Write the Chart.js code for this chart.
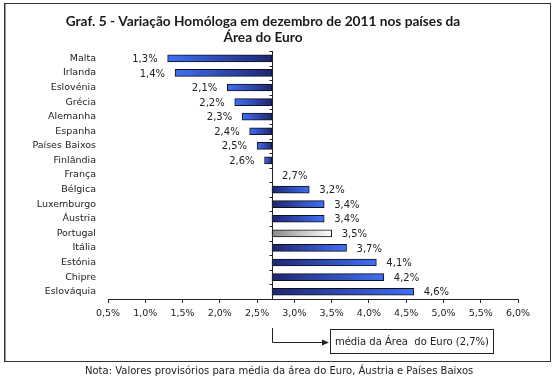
<!DOCTYPE html>
<html><head><meta charset="utf-8">
<script src="https://cdn.jsdelivr.net/npm/chart.js@4/dist/chart.umd.min.js"></script>
<style>html,body{margin:0;padding:0;background:#fff}#wrap{width:559px;height:384px;position:relative}</style>
</head><body><div id="wrap"><canvas id="c" width="559" height="384"></canvas></div>
<script>
const countries = ['Malta','Irlanda','Eslovénia','Grécia','Alemanha','Espanha','Países Baixos','Finlândia','França','Bélgica','Luxemburgo','Áustria','Portugal','Itália','Estónia','Chipre','Eslováquia'];
const values = [1.3,1.4,2.1,2.2,2.3,2.4,2.5,2.6,2.7,3.2,3.4,3.4,3.5,3.7,4.1,4.2,4.6];
const euroAvg = 2.7;
const highlight = 'Portugal';
const xTickValues = [0.5,1.0,1.5,2.0,2.5,3.0,3.5,4.0,4.5,5.0,5.5,6.0];
const titleLines = ['Graf. 5 - Variação Homóloga em dezembro de 2011 nos países da','Área do Euro'];
const avgLabel = 'média da Área  do Euro (2,7%)';
const noteText = 'Nota: Valores provisórios para média da área do Euro, Áustria e Países Baixos';

const fmt = v => v.toFixed(1).replace('.', ',') + '%';
const FONT = '"DejaVu Sans", sans-serif';

function barFill(ctx) {
  const chart = ctx.chart;
  const isHi = countries[ctx.dataIndex] === highlight;
  const dark = isHi ? '#8a8a8a' : '#1e2770';
  const bright = isHi ? '#ffffff' : '#3f6ff5';
  const xs = chart.scales && chart.scales.x;
  if (!chart.chartArea || !xs) return bright;
  const v = values[ctx.dataIndex];
  const p0 = xs.getPixelForValue(euroAvg), p1 = xs.getPixelForValue(v);
  if (Math.abs(p1 - p0) < 1) return dark;
  const g = chart.ctx.createLinearGradient(p0, 0, p1, 0);
  g.addColorStop(0, dark);
  g.addColorStop(1, bright);
  return g;
}

const decor = {
  id: 'decor',
  beforeDraw(chart) {
    const ctx = chart.ctx;
    ctx.save();
    ctx.strokeStyle = '#999'; ctx.lineWidth = 2;
    ctx.beginPath(); ctx.moveTo(5, 3); ctx.lineTo(5, 362); ctx.stroke();
    ctx.strokeStyle = '#333'; ctx.lineWidth = 1;
    ctx.strokeRect(4.5, 3.5, 546, 358);
    ctx.restore();
  },
  afterDatasetsDraw(chart) {
    const { ctx, chartArea: a, scales: { x, y } } = chart;
    const x0 = Math.round(x.getPixelForValue(euroAvg)) + 0.5;
    ctx.save();
    ctx.strokeStyle = '#222'; ctx.lineWidth = 1;
    ctx.beginPath();
    ctx.moveTo(x0, a.top); ctx.lineTo(x0, a.bottom);
    for (let i = 0; i <= countries.length; i++) {
      const yy = Math.round(y.getPixelForValue(i - 0.5)) + 0.5;
      ctx.moveTo(x0 - 3, yy); ctx.lineTo(x0, yy);
    }
    ctx.stroke();
    const meta = chart.getDatasetMeta(0);
    ctx.font = '10px ' + FONT; ctx.fillStyle = '#222'; ctx.textBaseline = 'middle';
    meta.data.forEach((bar, i) => {
      const v = values[i];
      if (v < euroAvg) { ctx.textAlign = 'right'; ctx.fillText(fmt(v), bar.x - 10, bar.y + 1); }
      else { ctx.textAlign = 'left'; ctx.fillText(fmt(v), bar.x + 10, bar.y + 1); }
    });
    // annotation arrow + box
    ctx.beginPath();
    ctx.moveTo(x0, 328); ctx.lineTo(x0, 342.5); ctx.lineTo(324, 342.5);
    ctx.stroke();
    ctx.fillStyle = '#222';
    ctx.beginPath(); ctx.moveTo(329, 342.5); ctx.lineTo(322, 339.5); ctx.lineTo(322, 345.5); ctx.closePath(); ctx.fill();
    ctx.strokeRect(330.5, 329.5, 163, 24);
    ctx.font = '10px ' + FONT; ctx.textAlign = 'center'; ctx.fillStyle = '#222';
    ctx.fillText(avgLabel, 412, 342);
    ctx.textAlign = 'left';
    ctx.fillText(noteText, 85, 371);
    ctx.restore();
  }
};

new Chart(document.getElementById('c'), {
  type: 'bar',
  data: {
    labels: countries,
    datasets: [{
      data: values,
      base: euroAvg,
      backgroundColor: barFill,
      borderColor: '#101018',
      borderWidth: 1,
      borderSkipped: false,
      barThickness: 7
    }]
  },
  options: {
    indexAxis: 'y',
    responsive: false,
    animation: false,
    devicePixelRatio: 1,
    layout: { padding: { left: 8, right: 41, top: 0, bottom: 0 } },
    plugins: {
      legend: { display: false },
      tooltip: { enabled: false },
      title: {
        display: true,
        text: titleLines,
        color: '#1a1a1a',
        font: { family: 'Lato', weight: 'bold', size: 13.7, lineHeight: 1.17 },
        padding: { top: 14, bottom: 5 }
      }
    },
    scales: {
      x: {
        type: 'linear', min: 0.5, max: 6.0,
        afterBuildTicks: s => { s.ticks = xTickValues.map(v => ({ value: v })); },
        ticks: { callback: v => fmt(v), font: { family: FONT, size: 9.5 }, color: '#222', padding: 5, maxRotation: 0, autoSkip: false },
        grid: { drawOnChartArea: false, drawTicks: true, tickLength: 4, color: '#222' },
        border: { display: true, color: '#222' },
        afterFit: s => { s.height = 85; }
      },
      y: {
        ticks: { font: { family: FONT, size: 9.5 }, color: '#222', padding: 12, autoSkip: false },
        grid: { display: false, drawTicks: false },
        border: { display: false },
        afterFit: s => { s.width = 100; }
      }
    }
  },
  plugins: [decor]
});
</script>
</body></html>
